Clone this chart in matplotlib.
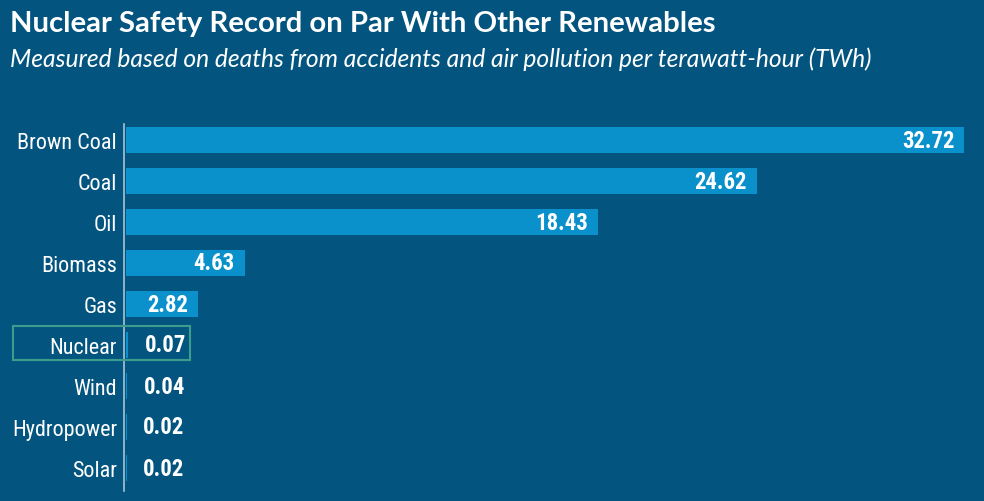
import matplotlib
matplotlib.use("Agg")
import matplotlib.pyplot as plt
from matplotlib.patches import Rectangle
from matplotlib import font_manager as fm

categories = ["Brown Coal", "Coal", "Oil", "Biomass", "Gas", "Nuclear", "Wind", "Hydropower", "Solar"]
values = [32.72, 24.62, 18.43, 4.63, 2.82, 0.07, 0.04, 0.02, 0.02]
value_labels = ["32.72", "24.62", "18.43", "4.63", "2.82", "0.07", "0.04", "0.02", "0.02"]

BG = "#03557f"
BAR = "#0a91cb"
W, H = 984, 502

names = {f.name for f in fm.fontManager.ttflist}
cond_candidates = ["Roboto Condensed", "DejaVu Sans Condensed", "Liberation Sans Narrow", "Open Sans Condensed"]
cond = next((n for n in cond_candidates if n in names), None)
if cond is None:
    COND = ["Roboto", "DejaVu Sans"]
    lab_size, val_size = 15.5, 16
else:
    COND = [cond, "DejaVu Sans"]
    lab_size, val_size = 15.9, 16.4

fig = plt.figure(figsize=(W / 100, H / 100), dpi=100)
fig.patch.set_facecolor(BG)

left_px, right_px, top_px, bot_px = 124, 984, 125, 492
ax = fig.add_axes([left_px / W, 1 - bot_px / H, (right_px - left_px) / W, (bot_px - top_px) / H])
ax.set_facecolor(BG)

px_per_unit = (964 - 126) / 32.72
ax.set_xlim(-2 / px_per_unit, (right_px - left_px - 2) / px_per_unit)
ax.set_ylim(8 + 23 / 41, -16 / 41)

y = list(range(len(categories)))
ax.barh(y, values, height=0.64, color=BAR, left=0)

for i, (v, lab) in enumerate(zip(values, value_labels)):
    if v > 1:
        ax.annotate(lab, (v, i), xytext=(-7, 0), textcoords="offset points",
                    ha="right", va="center", color="white", fontsize=val_size,
                    fontweight="bold", family=COND)
    else:
        ax.annotate(lab, (v, i), xytext=(12, 0), textcoords="offset points",
                    ha="left", va="center", color="white", fontsize=val_size,
                    fontweight="bold", family=COND)

ax.set_yticks(y)
ax.set_yticklabels(categories, color="white", fontsize=lab_size, family=COND)
ax.tick_params(axis="y", length=0, pad=5)
ax.set_xticks([])
for s in ["top", "right", "bottom"]:
    ax.spines[s].set_visible(False)
ax.spines["left"].set_color("#a9c3d3")
ax.spines["left"].set_linewidth(1.2)

fig.patches.append(Rectangle((13 / W, 1 - 361 / H), (190 - 13) / W, (361 - 327) / H,
                             transform=fig.transFigure, fill=False,
                             edgecolor="#3d9c8c", linewidth=1.5))

fig.text(10 / W, 1 - 32 / H, "Nuclear Safety Record on Par With Other Renewables",
         color="white", fontsize=21.1, fontweight="bold", family=["Lato", "DejaVu Sans"],
         ha="left", va="baseline")
fig.text(10 / W, 1 - 67 / H,
         "Measured based on deaths from accidents and air pollution per terawatt-hour (TWh)",
         color="white", fontsize=17.7, style="italic", family=["Lato", "DejaVu Sans"],
         ha="left", va="baseline")

fig.savefig("out.png", dpi=100, facecolor=BG)
